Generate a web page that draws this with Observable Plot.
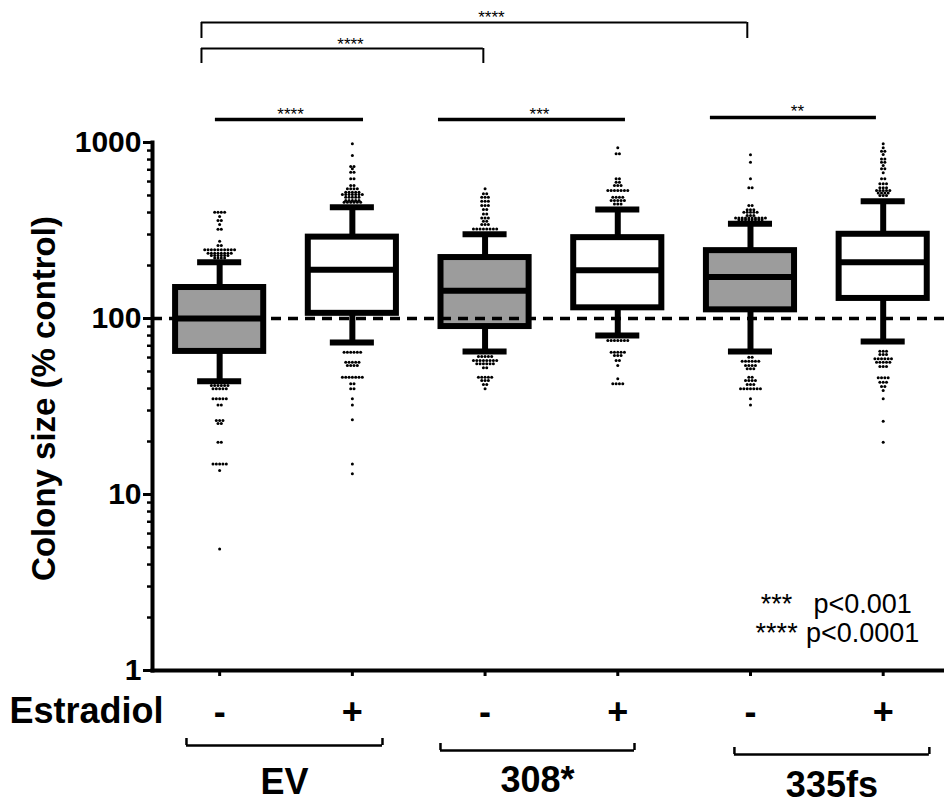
<!DOCTYPE html>
<html><head><meta charset="utf-8">
<script src="https://cdn.jsdelivr.net/npm/d3@7"></script>
<script src="https://cdn.jsdelivr.net/npm/@observablehq/plot@0.6"></script>
<style>body{margin:0;background:#fff}#chart svg{display:block}</style>
</head><body><div id="chart"></div>
<script>
// ---- data ----
const groups = ["EV -", "EV +", "308* -", "308* +", "335fs -", "335fs +"];
const estradiol = ["-", "+", "-", "+", "-", "+"];
const filled = [true, false, true, false, true, false];
const whiskerLow = [44, 73, 65, 80, 65, 74];
const q1 = [65, 107, 90, 115, 112, 130];
const median = [100, 189, 144, 188, 172, 209];
const q3 = [150, 290, 222, 288, 243, 301];
const whiskerHigh = [209, 429, 301, 416, 345, 464];
// outlier rows: [value, number of dots in the row]
const outliers = [
  [[402,4],[380,1],[361,2],[342,1],[321,2],[275,1],[260,2],[246,10],[235,8],[228,6],[221,4],
   [41.6,6],[39.9,5],[35,5],[32.3,2],[26.3,3],[25.3,2],[19.8,2],[14.9,5],[13.7,1],[4.9,1]],
  [[984,1],[844,1],[731,2],[710,1],[678,2],[622,2],[570,2],[546,4],[522,5],[507,7],[489,5],[468,5],[458,6],
   [64.4,6],[56.5,5],[54.1,4],[46.4,7],[42.6,2],[39.9,2],[35,1],[32.3,1],[26.6,1],[14.9,1],[13.1,1]],
  [[546,1],[511,2],[489,3],[464,3],[439,3],[416,2],[393,2],[373,3],[357,2],[342,3],[323,8],
   [60.8,5],[57.7,8],[55.3,6],[52.5,2],[46.4,5],[44.4,3],[42.2,2],[39.9,1]],
  [[933,1],[863,2],[622,2],[595,2],[570,3],[533,7],[489,4],[468,5],[448,3],
   [75,7],[64.4,5],[61.6,3],[57.7,2],[54.1,1],[45.4,1],[42.6,4]],
  [[851,1],[773,1],[622,1],[553,2],[439,2],[415,3],[402,5],[385,3],[373,10],[364,8],
   [60.3,2],[57.2,6],[54.1,4],[51.8,3],[46.4,2],[44.4,4],[42.2,3],[39.9,7],[35,1],[32.3,1]],
  [[984,1],[933,1],[893,2],[855,1],[807,2],[773,2],[740,1],[710,2],[673,1],[622,2],[582,3],[553,3],[533,5],[517,4],[500,3],
   [65.2,3],[62.4,3],[59,6],[56.5,5],[53.3,3],[46,4],[43.5,3],[41.1,2],[39,1],[35,1],[26.1,1],[19.8,1]]
];
const yTicks = [1, 10, 100, 1000];
const referenceLevel = [100];
const constructs = ["EV", "308*", "335fs"];
const constructFrom = [-0.25, 1.664, 3.879];
const constructTo = [1.227, 3.126, 5.348];
const pairLabels = ["****", "***", "**"];
const pairFrom = [-0.032, 1.649, 3.698];
const pairTo = [1.084, 3.058, 4.949];
const pairLabelX = [0.534, 2.41, 4.354];
const longLabels = ["****", "****"];
const longFrom = [-0.137, -0.137];
const longTo = [3.976, 1.987];
const longLabelX = [2.048, 0.986];
const legendStars = ["***", "****"];
const legendText = ["p<0.001", "p<0.0001"];

// ---- layout (not data) ----
const FONT = "'Liberation Sans', Arial, Helvetica, sans-serif";
const HALF_BOX = 0.332, HALF_CAP = 0.166, DOT_STEP = 0.025;
const pairY = [1351, 1351, 1387];
const longTop = [4808, 3420], longEnd = [3899, 2811];
const legendY = [2.135, 1.443];
const legendStarX = 4.197, legendTextX = 4.845;
const bracketDy = [75, 80, 84];
const bracketTick = 7;
const labelDy = [123, 121, 126];

const idx = groups.map((_, i) => i);
const boxes = idx.map(i => ({i, lo: whiskerLow[i], q1: q1[i], med: median[i], q3: q3[i], hi: whiskerHigh[i], filled: filled[i]}));
const dots = [];
outliers.forEach((rows, i) => rows.forEach(([v, n]) => {
  for (let k = 0; k < n; k++) dots.push({x: i + (k - (n - 1) / 2) * DOT_STEP, y: v});
}));
const minor = [];
for (let d = 1; d < 1000; d *= 10) for (let m = 2; m <= 9; m++) minor.push(m * d);

const pairs = pairLabels.map((l, k) => ({l, a: pairFrom[k], b: pairTo[k], lx: pairLabelX[k], y: pairY[k]}));
const longs = longLabels.map((l, k) => ({l, a: longFrom[k], b: longTo[k], lx: longLabelX[k], y: longTop[k], y2: longEnd[k]}));
const cons = constructs.map((c, k) => ({c, a: constructFrom[k], b: constructTo[k], dy: bracketDy[k], ldy: labelDy[k]}));
const legend = legendStars.map((s, k) => ({s, t: legendText[k], y: legendY[k]}));

// short upward end-ticks for the construct brackets below the axis
const raiseTicks = (index, scales, values, dims, context, next) => {
  const g = next(index, scales, values, dims, context);
  g.querySelectorAll("line").forEach(l => l.setAttribute("y1", +l.getAttribute("y2") - bracketTick));
  return g;
};

const marks = [
  Plot.ruleX(boxes, {x: "i", y1: "q3", y2: "hi", stroke: "black", strokeWidth: 6}),
  Plot.ruleX(boxes, {x: "i", y1: "lo", y2: "q1", stroke: "black", strokeWidth: 6}),
  Plot.ruleY(boxes, {y: "hi", x1: d => d.i - HALF_CAP, x2: d => d.i + HALF_CAP, stroke: "black", strokeWidth: 6}),
  Plot.ruleY(boxes, {y: "lo", x1: d => d.i - HALF_CAP, x2: d => d.i + HALF_CAP, stroke: "black", strokeWidth: 6}),
  Plot.rect(boxes, {x1: d => d.i - HALF_BOX, x2: d => d.i + HALF_BOX, y1: "q1", y2: "q3",
    fill: d => d.filled ? "#9c9c9c" : "white", stroke: "black", strokeWidth: 6}),
  Plot.ruleY(boxes, {y: "med", x1: d => d.i - HALF_BOX, x2: d => d.i + HALF_BOX, stroke: "black", strokeWidth: 6}),
  Plot.dot(dots, {x: "x", y: "y", r: 1.5, fill: "black", stroke: null}),
  Plot.ruleY(referenceLevel, {stroke: "black", strokeWidth: 3.5, strokeDasharray: "10,7"}),
  // axes
  Plot.axisY(minor, {tickSize: 5, tickFormat: () => "", strokeWidth: 2.5, label: null}),
  Plot.axisY(yTicks, {tickSize: 9, tickPadding: 2, strokeWidth: 3, tickFormat: d => String(d),
    fontSize: 30, fontWeight: "bold", fontFamily: FONT, label: null}),
  Plot.frame({anchor: "left", stroke: "black", strokeWidth: 4}),
  Plot.axisX(idx, {tickSize: 6, strokeWidth: 3, tickPadding: 22, tickFormat: i => estradiol[i],
    fontSize: 36, fontWeight: "bold", fontFamily: FONT, label: null}),
  Plot.frame({anchor: "bottom", stroke: "black", strokeWidth: 4}),
  Plot.text(["Colony size (% control)"], {frameAnchor: "left", rotate: -90, dx: -108, dy: -8,
    textAnchor: "middle", lineAnchor: "middle",
    fontSize: 33, fontWeight: "bold", fontFamily: FONT, fill: "black"}),
  Plot.text(["Estradiol"], {frameAnchor: "bottom-left", dx: -143, dy: 52, textAnchor: "start", lineAnchor: "bottom",
    fontSize: 36, fontWeight: "bold", fontFamily: FONT, fill: "black"}),
  // construct brackets under the axis
  ...cons.map(d => Plot.ruleY([1], {x1: d.a, x2: d.b, dy: d.dy, stroke: "black", strokeWidth: 2.5})),
  ...cons.map(d => Plot.ruleX([d.a, d.b], {y1: 1, y2: 1, dy: d.dy, stroke: "black", strokeWidth: 2.5, render: raiseTicks})),
  ...cons.map(d => Plot.text([d.c], {x: (d.a + d.b) / 2, y: 1, dy: d.ldy, lineAnchor: "bottom",
    fontSize: 36, fontWeight: "bold", fontFamily: FONT, fill: "black"})),
  // significance lines
  Plot.ruleY(pairs, {y: "y", x1: "a", x2: "b", stroke: "black", strokeWidth: 3.5}),
  Plot.text(pairs, {x: "lx", y: "y", text: "l", lineAnchor: "bottom", dy: 0, fontSize: 17, fontFamily: FONT, fill: "black"}),
  Plot.ruleY(longs, {y: "y", x1: "a", x2: "b", stroke: "black", strokeWidth: 2}),
  Plot.ruleX(longs, {x: "a", y1: "y", y2: "y2", stroke: "black", strokeWidth: 2}),
  Plot.ruleX(longs, {x: "b", y1: "y", y2: "y2", stroke: "black", strokeWidth: 2}),
  Plot.text(longs, {x: "lx", y: "y", text: "l", lineAnchor: "bottom", dy: 1, fontSize: 17, fontFamily: FONT, fill: "black"}),
  // legend
  Plot.text(legend, {x: () => legendStarX, y: "y", text: "s", lineAnchor: "bottom", fontSize: 27, fontFamily: FONT, fill: "black"}),
  Plot.text(legend, {x: () => legendTextX, y: "y", text: "t", lineAnchor: "bottom", fontSize: 27, fontFamily: FONT, fill: "black"})
];

const chart = Plot.plot({
  width: 944, height: 804,
  marginLeft: 152, marginRight: 0, marginTop: 142, marginBottom: 134,
  style: {fontFamily: FONT, background: "white", overflow: "visible"},
  x: {type: "linear", domain: [-0.506, 5.462], axis: null},
  y: {type: "log", domain: [1, 1000], axis: null, label: null},
  marks
});
document.getElementById("chart").appendChild(chart);
</script>
</body></html>
